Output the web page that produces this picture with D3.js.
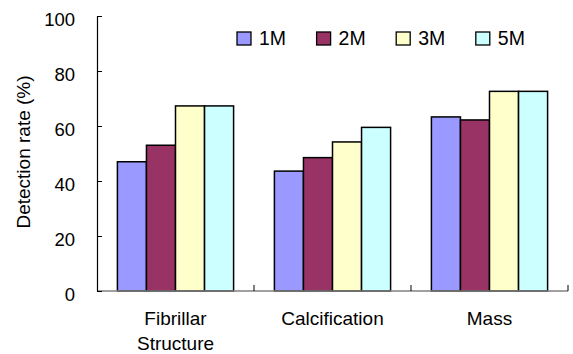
<!DOCTYPE html>
<html>
<head>
<meta charset="utf-8">
<script src="https://cdn.jsdelivr.net/npm/d3@7"></script>
<style>
  body { margin: 0; background: #fff; }
  text { font-family: "Liberation Sans", Arial, sans-serif; fill: #000; }
</style>
</head>
<body>
<svg id="chart" width="573" height="354"></svg>
<script>
// data
var categories = ["Fibrillar Structure", "Calcification", "Mass"];
var series = ["1M", "2M", "3M", "5M"];
var colors = ["#9999ff", "#993366", "#ffffcc", "#ccffff"];
var values = {
  "1M": [47.0, 43.6, 63.3],
  "2M": [53.0, 48.5, 62.2],
  "3M": [67.3, 54.2, 72.6],
  "5M": [67.3, 59.5, 72.6]
};
var yTicks = [0, 20, 40, 60, 80, 100];

var plot = {left: 97, right: 568, top: 16, bottom: 291};

var svg = d3.select("#chart");

var x0 = d3.scaleBand().domain(categories).range([plot.left, plot.right]);
var pad = x0.bandwidth() * 0.13;
var x1 = d3.scaleBand().domain(series).range([pad, x0.bandwidth() - pad]);
var y = d3.scaleLinear().domain([0, 100]).range([plot.bottom, plot.top]);
var color = d3.scaleOrdinal().domain(series).range(colors);

// bars
var groups = svg.selectAll("g.cat")
  .data(categories).enter().append("g")
  .attr("class", "cat")
  .attr("transform", function (d) { return "translate(" + x0(d) + ",0)"; });

groups.selectAll("rect")
  .data(function (d, i) { return series.map(function (s) { return {s: s, v: values[s][i]}; }); })
  .enter().append("rect")
  .attr("x", function (d) { return x1(d.s); })
  .attr("width", x1.bandwidth())
  .attr("y", function (d) { return y(d.v); })
  .attr("height", function (d) { return y(0) - y(d.v); })
  .attr("fill", function (d) { return color(d.s); })
  .attr("stroke", "#000")
  .attr("stroke-width", 1.5);

// x axis baseline + boundary ticks
svg.append("line")
  .attr("x1", plot.left).attr("x2", plot.right)
  .attr("y1", y(0)).attr("y2", y(0))
  .attr("stroke", "#808080").attr("stroke-width", 1.5);

svg.selectAll("line.xtick")
  .data(categories.slice(1).map(function (c) { return x0(c); }).concat([plot.right]))
  .enter().append("line")
  .attr("class", "xtick")
  .attr("x1", function (d) { return d; }).attr("x2", function (d) { return d; })
  .attr("y1", y(0)).attr("y2", y(0) - 6)
  .attr("stroke", "#000").attr("stroke-width", 1);

// y axis
var yAxis = svg.append("g")
  .attr("transform", "translate(" + plot.left + ",0)")
  .call(d3.axisLeft(y).tickValues(yTicks).tickSizeInner(-5).tickSizeOuter(0).tickPadding(22));
yAxis.select(".domain").attr("stroke", "#000").attr("stroke-width", 1.2);
yAxis.selectAll(".tick line").attr("stroke", "#000");
yAxis.selectAll(".tick text")
  .attr("dy", "0.52em")
  .style("font-size", "18.5px")
  .style("font-family", "Liberation Sans, Arial, sans-serif");

// y axis title
svg.append("text")
  .attr("transform", "translate(30,152) rotate(-90)")
  .attr("text-anchor", "middle")
  .style("font-size", "19px")
  .text("Detection rate (%)");

// category labels
svg.selectAll("text.cat")
  .data(categories).enter().append("text")
  .attr("class", "cat")
  .attr("x", function (d) { return x0(d) + x0.bandwidth() / 2; })
  .attr("y", 325)
  .attr("text-anchor", "middle")
  .style("font-size", "19px")
  .each(function (d) {
    var words = d === "Fibrillar Structure" ? ["Fibrillar", "Structure"] : [d];
    var t = d3.select(this);
    words.forEach(function (w, i) {
      t.append("tspan")
        .attr("x", x0(d) + x0.bandwidth() / 2)
        .attr("dy", i === 0 ? 0 : 25)
        .text(w);
    });
  });

// legend
var leg = svg.selectAll("g.leg")
  .data(series).enter().append("g")
  .attr("class", "leg")
  .attr("transform", function (d, i) { return "translate(" + (237 + i * 79.6) + ",32)"; });
leg.append("rect")
  .attr("width", 14).attr("height", 13)
  .attr("fill", function (d) { return color(d); })
  .attr("stroke", "#000").attr("stroke-width", 1.3);
leg.append("text")
  .attr("x", 22).attr("y", 13)
  .style("font-size", "19.5px")
  .text(function (d) { return d; });
</script>
</body>
</html>
